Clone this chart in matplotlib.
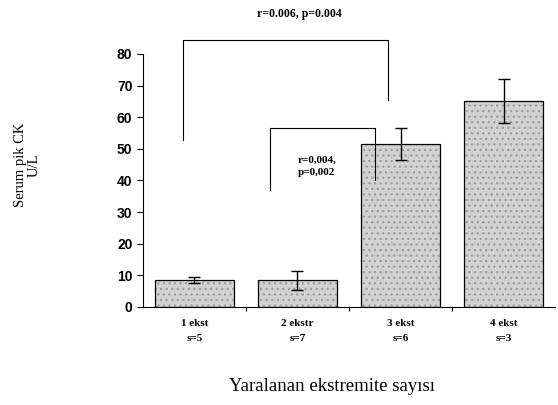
import matplotlib
matplotlib.use("Agg")
import matplotlib.pyplot as plt
import numpy as np

# data
groups = ["1 ekst\ns=5", "2 ekstr\ns=7", "3 ekst\ns=6", "4 ekst\ns=3"]
ck_mean = [8.5, 8.5, 51.5, 65.0]
ck_err = [1.0, 3.0, 5.0, 7.0]
yticks = [0, 10, 20, 30, 40, 50, 60, 70, 80]

fig = plt.figure(figsize=(5.58, 4.05), dpi=100)
ax = fig.add_axes([0.256, 0.242, 0.739, 0.625])

x = np.arange(len(groups))
# stippled grey fill, then black outline on top
ax.bar(x, ck_mean, width=0.77, color="#d2d2d2", edgecolor="#a0a0a0", linewidth=0,
       hatch="...", zorder=2)
ax.bar(x, ck_mean, width=0.77, fill=False, edgecolor="black", linewidth=0.9, zorder=2.5)
ax.errorbar(x, ck_mean, yerr=ck_err, fmt="none", ecolor="black", elinewidth=1.0,
            capsize=4, capthick=1.0, zorder=3)

ax.set_xlim(-0.5, 3.5)
ax.set_ylim(0, 80)
ax.set_yticks(yticks)
ax.set_yticklabels([str(v) for v in yticks], fontsize=10, fontweight="bold",
                   family="Liberation Sans")
ax.set_xticks([0.5, 1.5, 2.5])
ax.set_xticklabels([])
ax.tick_params(axis="x", length=3, direction="out")
ax.tick_params(axis="y", length=4, direction="out")
for s in ["top", "right"]:
    ax.spines[s].set_visible(False)

# group labels under the bars
for i, g in enumerate(groups):
    ax.text(i, -3.8, g, ha="center", va="top", fontsize=8, family="Liberation Serif",
            fontweight="bold", linespacing=1.8)

# significance brackets
ax.plot([-0.11, -0.11, 1.88, 1.88], [52.8, 84.5, 84.5, 65.5], color="black",
        linewidth=0.8, clip_on=False)
ax.text(1.02, 92.5, "r=0.006, p=0.004", ha="center", va="center", fontsize=8.5,
        family="Liberation Serif", fontweight="bold")
ax.plot([0.73, 0.73, 1.75, 1.75], [37, 56.6, 56.6, 40], color="black",
        linewidth=0.8, clip_on=False)
ax.text(1.0, 44.5, "r=0,004,\np=0,002", ha="left", va="center", fontsize=8,
        family="Liberation Serif", fontweight="bold", linespacing=1.4)

fig.text(0.049, 0.593, "Serum pik CK\nU/L", rotation=90, ha="center", va="center",
         fontsize=10.5, family="Liberation Serif", linespacing=1.1)
fig.text(0.595, 0.045, "Yaralanan ekstremite sayısı", ha="center", va="center",
         fontsize=13.5, family="Liberation Serif")

fig.savefig("out.png", dpi=100)
